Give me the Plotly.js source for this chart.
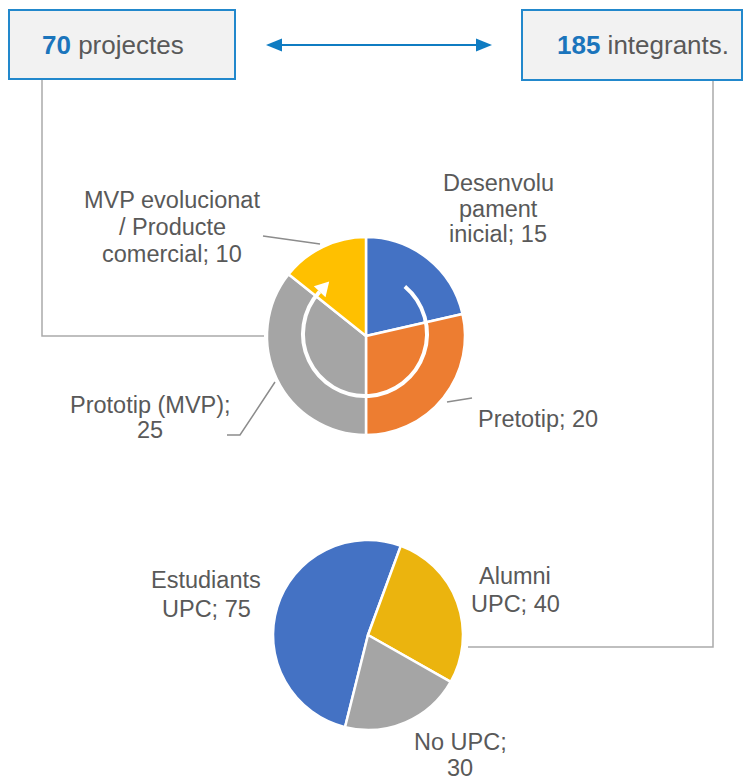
<!DOCTYPE html>
<html><head><meta charset="utf-8">
<script src="https://cdn.plot.ly/plotly-3.0.1.min.js"></script>
<style>html,body{margin:0;padding:0;background:#fff}#chart{width:743px;height:783px}</style>
</head><body><div id="chart"></div>
<script>
// ---- data ----
const stageLabels = ['Desenvolupament inicial', 'Pretotip', 'Prototip (MVP)', 'MVP evolucionat / Producte comercial'];
const stageValues = [15, 20, 25, 10];
const stageLabelLines = [['Desenvolu', 'pament', 'inicial; {v}'], ['Pretotip; {v}'], ['Prototip (MVP);', '{v}'], ['MVP evolucionat', '/ Producte', 'comercial; {v}']];
const memberLabels = ['Estudiants UPC', 'Alumni UPC', 'No UPC'];
const memberValues = [75, 40, 30];
const memberLabelLines = [['Estudiants', 'UPC; {v}'], ['Alumni', 'UPC; {v}'], ['No UPC;', '{v}']];
const totalProjects = 70;
const totalMembers = 185;
const projectsWord = 'projectes';
const membersWord = 'integrants.';

// ---- layout helpers (pixel positions) ----
const W = 743, H = 783;
const stageColors = ['#4472c4', '#ed7d31', '#a5a5a5', '#ffc000'];
const memberColors = ['#4472c4', '#ebb40e', '#a5a5a5'];
const stagePos = [{x: 498, y: [191, 217, 242]}, {x: 538, y: [427]}, {x: 150, y: [413, 438]}, {x: 172, y: [208, 235, 262]}];
const memberPos = [{x: 206, y: [588, 617]}, {x: 515, y: [584, 612]}, {x: 460, y: [750, 776]}];
const FS = 23.5;
const txtColor = '#595959';
const blue = '#1b75bc';

function pxDomain(cx, cy, r) {
  return {x: [(cx - r) / W, (cx + r) / W], y: [1 - (cy + r) / H, 1 - (cy - r) / H]};
}

const traces = [
  {type: 'pie', labels: stageLabels, values: stageValues, sort: false, direction: 'clockwise', rotation: 0,
   textinfo: 'none', hoverinfo: 'label+value', showlegend: false,
   marker: {colors: stageColors, line: {color: '#ffffff', width: 2.5}},
   domain: pxDomain(366, 336, 99)},
  {type: 'pie', labels: memberLabels, values: memberValues, sort: false, direction: 'clockwise', rotation: -166,
   textinfo: 'none', hoverinfo: 'label+value', showlegend: false,
   marker: {colors: memberColors, line: {color: '#ffffff', width: 2.5}},
   domain: pxDomain(368, 635, 95)}
];

const annotations = [];
function addLines(linesArr, values, pos) {
  linesArr.forEach((lines, i) => {
    lines.forEach((ln, j) => {
      annotations.push({x: pos[i].x, y: pos[i].y[j] - FS * 0.35, xref: 'x', yref: 'y', showarrow: false,
        xanchor: 'center', yanchor: 'middle', text: ln.replace('{v}', values[i]),
        font: {family: 'Liberation Sans, Arial, sans-serif', size: FS, color: txtColor}});
    });
  });
}
addLines(stageLabelLines, stageValues, stagePos);
addLines(memberLabelLines, memberValues, memberPos);

annotations.push({x: 40, y: 54 - 26 * 0.35, xref: 'x', yref: 'y', showarrow: false, xanchor: 'left', yanchor: 'middle',
  text: '<b><span style="color:' + blue + '">' + totalProjects + '</span></b> ' + projectsWord,
  font: {family: 'Liberation Sans, Arial, sans-serif', size: 26, color: txtColor}});
annotations.push({x: 555, y: 54 - 26 * 0.35, xref: 'x', yref: 'y', showarrow: false, xanchor: 'left', yanchor: 'middle',
  text: '<b><span style="color:' + blue + '">' + totalMembers + '</span></b> ' + membersWord,
  font: {family: 'Liberation Sans, Arial, sans-serif', size: 26, color: txtColor}});

// circular arrow
const acx = 365, acy = 334, ar = 62;
const rad = d => d * Math.PI / 180;
const P = t => [acx + ar * Math.sin(rad(t)), acy - ar * Math.cos(rad(t))];
const T = t => [Math.cos(rad(t)), Math.sin(rad(t))];
function arcPath(a0, a1) {
  const n = 4, step = (a1 - a0) / n;
  const k = 4 / 3 * Math.tan(rad(step) / 4) * ar;
  let p0 = P(a0);
  let d = 'M' + p0[0].toFixed(2) + ',' + p0[1].toFixed(2);
  for (let i = 0; i < n; i++) {
    const a = a0 + i * step, b = a + step;
    const pa = P(a), pb = P(b), ta = T(a), tb = T(b);
    d += ' C' + (pa[0] + k * ta[0]).toFixed(2) + ',' + (pa[1] + k * ta[1]).toFixed(2) + ' ' +
      (pb[0] - k * tb[0]).toFixed(2) + ',' + (pb[1] - k * tb[1]).toFixed(2) + ' ' +
      pb[0].toFixed(2) + ',' + pb[1].toFixed(2);
  }
  return d;
}
const aEnd = 313;
const E = P(aEnd), TE = T(aEnd), NE = [Math.sin(rad(aEnd)), -Math.cos(rad(aEnd))];
const tip = [E[0] + 14 * TE[0], E[1] + 14 * TE[1]];
const b1 = [E[0] + 8 * NE[0], E[1] + 8 * NE[1]], b2 = [E[0] - 8 * NE[0], E[1] - 8 * NE[1]];
const headPath = 'M' + tip.join(',') + ' L' + b1.join(',') + ' L' + b2.join(',') + ' Z';

const lineGray = '#aaaaaa', leadGray = '#8c8c8c', arrowBlue = '#0f7cc2';
const shapes = [
  {type: 'rect', xref: 'x', yref: 'y', x0: 9, x1: 235, y0: 10, y1: 79, fillcolor: '#f2f2f2', line: {color: '#2288cc', width: 2}, layer: 'above'},
  {type: 'rect', xref: 'x', yref: 'y', x0: 522, x1: 742, y0: 10, y1: 80, fillcolor: '#f2f2f2', line: {color: '#2288cc', width: 2}, layer: 'above'},
  {type: 'path', xref: 'x', yref: 'y', path: 'M280,45 H478', line: {color: arrowBlue, width: 2}, layer: 'above'},
  {type: 'path', xref: 'x', yref: 'y', path: 'M266,45 L282,38.5 L282,51.5 Z', fillcolor: arrowBlue, line: {color: arrowBlue, width: 0}, layer: 'above'},
  {type: 'path', xref: 'x', yref: 'y', path: 'M492,45 L476,38.5 L476,51.5 Z', fillcolor: arrowBlue, line: {color: arrowBlue, width: 0}, layer: 'above'},
  {type: 'path', xref: 'x', yref: 'y', path: 'M42,80 V336 H264', line: {color: lineGray, width: 1.5}, layer: 'above'},
  {type: 'path', xref: 'x', yref: 'y', path: 'M713,81 V647 H468', line: {color: lineGray, width: 1.5}, layer: 'above'},
  {type: 'path', xref: 'x', yref: 'y', path: 'M263,236 L320,244', line: {color: leadGray, width: 1.5}, layer: 'above'},
  {type: 'path', xref: 'x', yref: 'y', path: 'M227,435 L240,435 L275,382', line: {color: leadGray, width: 1.5}, layer: 'above'},
  {type: 'path', xref: 'x', yref: 'y', path: 'M447,402 L472,398', line: {color: leadGray, width: 1.5}, layer: 'above'},
  {type: 'path', xref: 'x', yref: 'y', path: arcPath(40, aEnd), line: {color: '#ffffff', width: 4}, layer: 'above'},
  {type: 'path', xref: 'x', yref: 'y', path: headPath, fillcolor: '#ffffff', line: {color: '#ffffff', width: 0}, layer: 'above'}
];

const layout = {
  width: W, height: H, margin: {l: 0, r: 0, t: 0, b: 0},
  paper_bgcolor: '#ffffff', plot_bgcolor: 'rgba(0,0,0,0)',
  xaxis: {range: [0, W], visible: false, fixedrange: true, domain: [0, 1]},
  yaxis: {range: [H, 0], visible: false, fixedrange: true, domain: [0, 1]},
  showlegend: false, shapes: shapes, annotations: annotations,
  font: {family: 'Liberation Sans, Arial, sans-serif'}
};
Plotly.newPlot('chart', traces, layout, {displayModeBar: false, staticPlot: true});
</script></body></html>
